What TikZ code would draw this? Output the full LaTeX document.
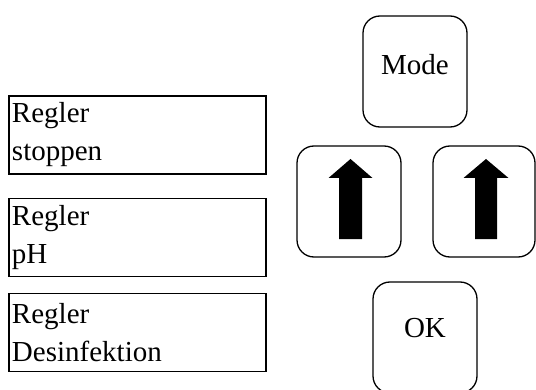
\documentclass[tikz,border=0pt]{standalone}
\usepackage{fontspec}
\setmainfont{Liberation Serif}
\usetikzlibrary{calc, positioning}

\begin{document}
\begin{tikzpicture}[x=1pt, y=1pt, font=\fontsize{29}{38}\selectfont]
			\tikzstyle{regler} = [line width=1.6pt, draw=black, rectangle, minimum width=257pt, minimum height=78pt, text width=251pt, align=left, inner xsep=3pt, inner ysep=0pt]
			\tikzstyle{taste} = [line width=1.3pt, draw=black, rectangle, rounded corners=17pt, minimum width=104pt, minimum height=111pt, inner sep=0pt]
			\tikzstyle{pfeil} = [fill=black]
			
			\useasboundingbox (0, 0) rectangle (536, 389);
			
			\node[regler] 	at (137.5, 254) 		(r0) 	{Regler\\stoppen};
			\node[regler]	at (137.5, 151.5)		(r1)	{Regler\\pH};
			\node[regler] 	at (137.5, 56.5)		(r2)	{Regler\\Desinfektion};
			
			\node[taste, text depth=14pt] 	at (415, 317.5) 	(mode) 	{Mode};
			\node[taste] 	at (349, 187.5) 	(links) 	{};
			\node[taste, minimum width=102pt] 	at (484, 187.5) 	(rechts) 	{};
			\node[taste, text depth=19pt] 	at (425, 51.5) 	(ok) 	{OK};
			
			% Pfeile in den Tasten
			\fill[pfeil] ($(links)+(-10, -37.5)$) -- ++(23, 0) -- ++(0, 61) -- ++(10.5, 0) -- ++(-22, 19) -- ++(-22, -19) -- ++(10.5, 0) -- cycle;
			\fill[pfeil] ($(rechts)+(-9, -37.5)$) -- ++(22, 0) -- ++(0, 61) -- ++(11.5, 0) -- ++(-22.5, 19) -- ++(-22.5, -19) -- ++(11.5, 0) -- cycle;
			\end{tikzpicture}
\end{document}
